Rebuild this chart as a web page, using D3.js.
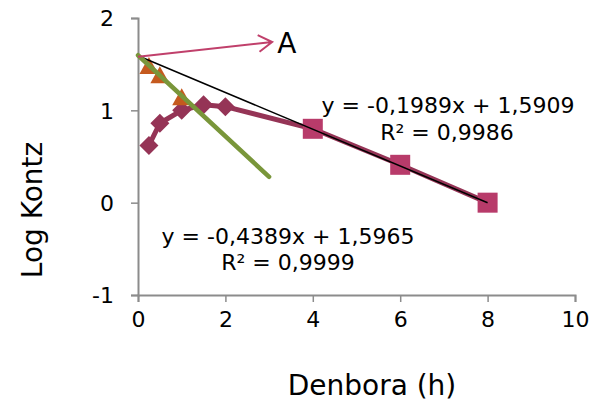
<!DOCTYPE html>
<meta charset="utf-8">
<style>
  body { margin: 0; background: #fff; }
  svg text { font-family: "DejaVu Sans", sans-serif; fill: #000; }
</style>
<div id="chart"></div>
<script src="https://d3js.org/d3.v7.min.js"></script>
<script>

// denbora (h) vs log kontz
var hoursA = [0.25, 0.5, 1, 1.5, 2, 4, 6, 8];
var logA   = [0.62, 0.86, 1.0, 1.06, 1.04, 0.80, 0.41, 0.0];

var hoursB = [4, 6, 8];
var logB   = [0.80, 0.41, 0.0];

var hoursC = [0.25, 0.5, 1];
var logC   = [1.47, 1.37, 1.13];

// trendlines: slope, intercept, x range
var trend1 = { slope: -0.1989, icpt: 1.5909, from: 0, to: 8 };
var trend2 = { slope: -0.4389, icpt: 1.5965, from: 0, to: 3 };

var xTicks = [0, 2, 4, 6, 8, 10];
var yTicks = [-1, 0, 1, 2];

// arrow annotation "A" (data coords)
var arrowFrom = [0, 1.58];
var arrowTo   = [3.07, 1.74];

var width = 591, height = 404;

var svg = d3.select("#chart").append("svg")
    .attr("width", width)
    .attr("height", height);

var x = d3.scaleLinear().domain([0, 10]).range([138, 575]);
var y = d3.scaleLinear().domain([-1, 2]).range([295, 18]);

var fmt = function(d) { return String(d); };

// axes
var xAxis = svg.append("g")
    .attr("transform", "translate(0," + y(-1) + ")")
    .call(d3.axisBottom(x).tickValues(xTicks).tickFormat(fmt).tickSize(7).tickPadding(9));
var yAxis = svg.append("g")
    .attr("transform", "translate(" + x(0) + ",0)")
    .call(d3.axisLeft(y).tickValues(yTicks).tickFormat(fmt).tickSize(7).tickPadding(17));

[xAxis, yAxis].forEach(function(a) {
  a.select(".domain").attr("stroke", "#8c8c8c").attr("stroke-width", 2);
  a.selectAll(".tick line").attr("stroke", "#8c8c8c").attr("stroke-width", 1.5);
  a.selectAll("text").attr("font-size", 22).attr("fill", "#000")
    .attr("font-family", "'DejaVu Sans', sans-serif");
});
yAxis.selectAll("text").attr("dy", "0.36em");

// series A line + diamonds
var ptsA = hoursA.map(function(h, i) { return [h, logA[i]]; });
var line = d3.line().x(function(d) { return x(d[0]); }).y(function(d) { return y(d[1]); });

svg.append("path")
    .datum(ptsA)
    .attr("d", line)
    .attr("fill", "none")
    .attr("stroke", "#953456")
    .attr("stroke-width", 5)
    .attr("stroke-linejoin", "round");

svg.append("g").selectAll("path")
    .data(ptsA.slice(0, 5))
    .enter().append("path")
    .attr("transform", function(d) { return "translate(" + x(d[0]) + "," + y(d[1]) + ")"; })
    .attr("d", "M0,-9.5L9.5,0L0,9.5L-9.5,0Z")
    .attr("fill", "#953456");

// series B squares
var ptsB = hoursB.map(function(h, i) { return [h, logB[i]]; });
svg.append("g").selectAll("rect")
    .data(ptsB)
    .enter().append("rect")
    .attr("x", function(d) { return x(d[0]) - 10; })
    .attr("y", function(d) { return y(d[1]) - 10; })
    .attr("width", 20)
    .attr("height", 20)
    .attr("fill", "#b83b6a");

// series C triangles
var ptsC = hoursC.map(function(h, i) { return [h, logC[i]]; });
svg.append("g").selectAll("path")
    .data(ptsC)
    .enter().append("path")
    .attr("transform", function(d) { return "translate(" + x(d[0]) + "," + y(d[1]) + ")"; })
    .attr("d", "M0,-10L9.5,7L-9.5,7Z")
    .attr("fill", "#c55a1e");

// trendlines
function trendPts(t) {
  return [[t.from, t.icpt + t.slope * t.from], [t.to, t.icpt + t.slope * t.to]];
}
svg.append("path")
    .datum(trendPts(trend1))
    .attr("d", line)
    .attr("stroke", "#000")
    .attr("stroke-width", 1.5)
    .attr("fill", "none");

svg.append("path")
    .datum(trendPts(trend2))
    .attr("d", line)
    .attr("stroke", "#79963a")
    .attr("stroke-width", 4.5)
    .attr("stroke-linecap", "round")
    .attr("fill", "none");

// arrow
var ax0 = x(arrowFrom[0]), ay0 = y(arrowFrom[1]), ax1 = x(arrowTo[0]), ay1 = y(arrowTo[1]);
var ang = Math.atan2(ay1 - ay0, ax1 - ax0);
var hl = 16, ha = 0.55;
svg.append("path")
    .attr("d", "M" + ax0 + "," + ay0 + "L" + ax1 + "," + ay1 +
      "M" + (ax1 - hl * Math.cos(ang - ha)) + "," + (ay1 - hl * Math.sin(ang - ha)) +
      "L" + ax1 + "," + ay1 +
      "L" + (ax1 - hl * Math.cos(ang + ha)) + "," + (ay1 - hl * Math.sin(ang + ha)))
    .attr("fill", "none")
    .attr("stroke", "#c0406b")
    .attr("stroke-width", 2);

svg.append("text")
    .attr("x", ax1 + 5)
    .attr("y", ay1 + 11)
    .attr("font-size", 28)
    .text("A");

// equations
var eq = svg.append("g").attr("text-anchor", "middle").attr("font-size", 22);
eq.append("text").attr("x", 448).attr("y", 113).text("y = -0,1989x + 1,5909");
eq.append("text").attr("x", 447).attr("y", 140).text("R² = 0,9986");
eq.append("text").attr("x", 288).attr("y", 244).text("y = -0,4389x + 1,5965");
eq.append("text").attr("x", 288).attr("y", 270).text("R² = 0,9999");

// axis titles
svg.append("text")
    .attr("x", 372)
    .attr("y", 395)
    .attr("text-anchor", "middle")
    .attr("font-size", 28)
    .text("Denbora (h)");

svg.append("text")
    .attr("transform", "translate(42,210)rotate(-90)")
    .attr("text-anchor", "middle")
    .attr("font-size", 28)
    .text("Log  Kontz");

</script>
